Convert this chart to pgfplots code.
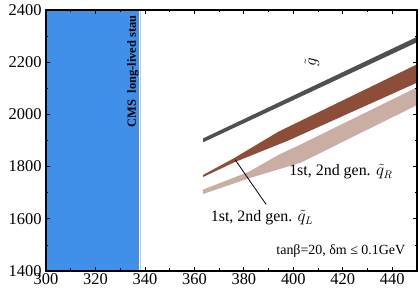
\documentclass[border=0pt]{standalone}
\usepackage{pgfplots}
\pgfplotsset{compat=1.18}
\usepackage{fontspec}
\setmainfont{Liberation Serif}
\definecolor{cmsblue}{RGB}{64,144,234}
\definecolor{edgeblue}{RGB}{170,208,245}
\definecolor{glgray}{RGB}{80,80,80}
\definecolor{qlbrown}{RGB}{140,78,56}
\definecolor{qrpink}{RGB}{202,174,164}
\begin{document}
\begin{tikzpicture}
\begin{axis}[
  scale only axis,
  width=371bp, height=261bp,
  xmin=300, xmax=450, ymin=1400, ymax=2400,
  xtick={300,320,...,440}, ytick={1400,1600,...,2400},
  minor x tick num=1, minor y tick num=1,
  tick align=inside,
  major tick length=4bp, minor tick length=2.5bp,
  axis line style={line width=1.3pt},
  every tick/.style={black, line width=0.8pt},
  tick label style={font=\fontsize{16.5}{18}\selectfont},
  yticklabel style={xshift=-1bp},
  xticklabel style={yshift=1bp},
  /pgf/number format/assume math mode=true,
  /pgf/number format/1000 sep={},
  axis on top,
  clip=true,
]
\addplot[fill=cmsblue, draw=none] coordinates {(300,1400) (337.6,1400) (337.6,2400) (300,2400)} -- cycle;
\addplot[draw=edgeblue, line width=1.2pt] coordinates {(338.1,1400) (338.1,2400)};
% gluino
\addplot[fill=glgray, draw=none] coordinates {(363.5,1908) (452,2306) (452,2285) (363.5,1893)} -- cycle;
% q_L
\addplot[fill=qlbrown, draw=none] coordinates {(363.5,1768) (376,1832) (394,1934) (452,2201) (452,2130) (398,1900) (376,1816) (363.5,1760)} -- cycle;
% q_R
\addplot[fill=qrpink, draw=none] coordinates {(363.5,1712) (382,1780) (394,1845) (403,1885) (452,2113) (452,2045) (403,1815) (382,1755) (363.5,1695)} -- cycle;
\addplot[black, line width=0.8pt] coordinates {(376.5,1826) (389,1655)};
\node[rotate=90, anchor=east, font=\bfseries\fontsize{12.5}{13}\selectfont] at (axis cs:335.1,2393) {CMS\ \ long-lived stau};
\node[rotate=90, font=\fontsize{16}{17}\selectfont] at (axis cs:407.5,2200) {$\tilde{g}$};
\node[font=\fontsize{16}{18}\selectfont] at (axis cs:387.3,1603) {1st, 2nd gen. $\tilde{q}_L$};
\node[font=\fontsize{16}{18}\selectfont] at (axis cs:419.2,1780) {1st, 2nd gen. $\tilde{q}_R$};
\node[font=\fontsize{14}{16}\selectfont] at (axis cs:419.2,1475) {tanβ=20, δm ≤ 0.1GeV};
\end{axis}
\pgfresetboundingbox
\path[use as bounding box] ([shift={(-46bp,-26bp)}]current axis.south west) rectangle ([shift={(3bp,10bp)}]current axis.north east);
\end{tikzpicture}
\end{document}
